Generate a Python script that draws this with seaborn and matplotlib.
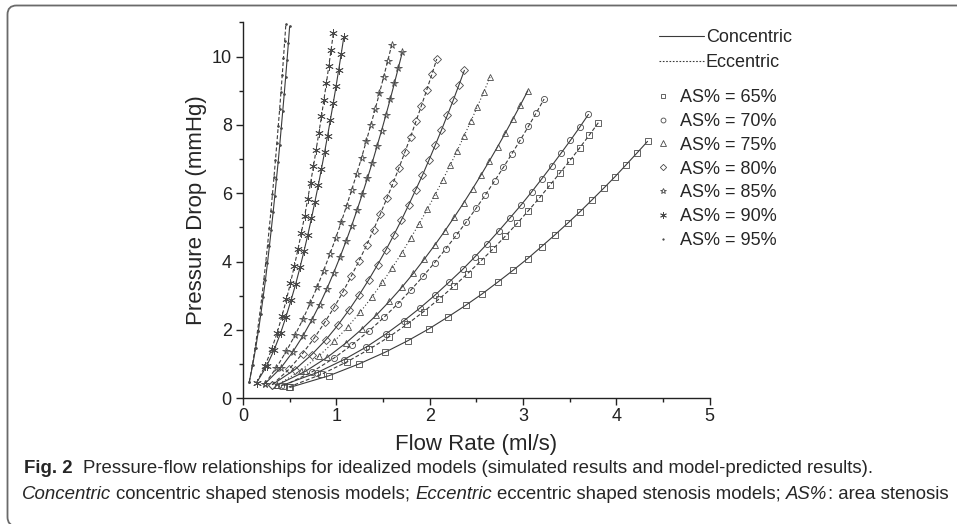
import matplotlib
matplotlib.use("Agg")
import matplotlib.pyplot as plt
import seaborn as sns
from matplotlib.lines import Line2D
from matplotlib.patches import FancyBboxPatch
from matplotlib.transforms import IdentityTransform
from matplotlib.ticker import MultipleLocator

# Flow rate (ml/s) and pressure drop (mmHg)
flow_65_con = [0.504, 0.921, 1.247, 1.524, 1.769, 1.990, 2.195, 2.385, 2.564, 2.734, 2.895,
               3.050, 3.198, 3.340, 3.477, 3.610, 3.740, 3.865, 3.987, 4.106, 4.221, 4.334]
dp_65_con = [0.32, 0.66, 1.01, 1.35, 1.69, 2.03, 2.38, 2.72, 3.06, 3.41, 3.75,
             4.09, 4.44, 4.78, 5.12, 5.46, 5.81, 6.15, 6.49, 6.84, 7.18, 7.52]
flow_65_ecc = [0.490, 0.839, 1.116, 1.355, 1.566, 1.759, 1.937, 2.102, 2.259, 2.406, 2.548,
               2.682, 2.812, 2.937, 3.057, 3.174, 3.286, 3.396, 3.503, 3.607, 3.709, 3.808]
dp_65_ecc = [0.33, 0.70, 1.07, 1.44, 1.80, 2.17, 2.54, 2.91, 3.28, 3.65, 4.02,
             4.38, 4.75, 5.12, 5.49, 5.86, 6.23, 6.60, 6.96, 7.33, 7.70, 8.07]

flow_70_con = [0.412, 0.793, 1.080, 1.320, 1.530, 1.720, 1.895, 2.057, 2.208, 2.352, 2.488,
               2.619, 2.744, 2.864, 2.980, 3.092, 3.200, 3.306, 3.409, 3.508, 3.606, 3.701]
dp_70_con = [0.37, 0.75, 1.13, 1.50, 1.88, 2.26, 2.64, 3.02, 3.40, 3.77, 4.15,
             4.53, 4.91, 5.29, 5.66, 6.04, 6.42, 6.80, 7.18, 7.55, 7.93, 8.31]
flow_70_ecc = [0.441, 0.737, 0.971, 1.171, 1.349, 1.511, 1.659, 1.799, 1.929, 2.053, 2.171,
               2.284, 2.392, 2.497, 2.598, 2.695, 2.790, 2.881, 2.971, 3.058, 3.143, 3.226]
dp_70_ecc = [0.37, 0.77, 1.17, 1.57, 1.97, 2.37, 2.77, 3.17, 3.57, 3.97, 4.37,
             4.77, 5.16, 5.56, 5.96, 6.36, 6.76, 7.16, 7.56, 7.96, 8.36, 8.76]

flow_75_con = [0.360, 0.669, 0.903, 1.099, 1.271, 1.427, 1.569, 1.702, 1.826, 1.944, 2.056,
               2.163, 2.265, 2.364, 2.459, 2.551, 2.640, 2.727, 2.811, 2.893, 2.973, 3.051]
dp_75_con = [0.38, 0.79, 1.20, 1.61, 2.02, 2.43, 2.84, 3.25, 3.66, 4.08, 4.49,
             4.90, 5.31, 5.72, 6.13, 6.54, 6.95, 7.36, 7.77, 8.18, 8.59, 9.00]
flow_75_ecc = [0.361, 0.617, 0.814, 0.980, 1.126, 1.258, 1.380, 1.493, 1.599, 1.700, 1.795,
               1.887, 1.974, 2.059, 2.140, 2.219, 2.295, 2.369, 2.441, 2.512, 2.580, 2.647]
dp_75_ecc = [0.38, 0.81, 1.24, 1.67, 2.10, 2.53, 2.96, 3.39, 3.82, 4.25, 4.68,
             5.11, 5.53, 5.96, 6.39, 6.82, 7.25, 7.68, 8.11, 8.54, 8.97, 9.40]

flow_80_con = [0.314, 0.556, 0.737, 0.887, 1.019, 1.137, 1.246, 1.347, 1.442, 1.531, 1.616,
               1.698, 1.775, 1.850, 1.923, 1.992, 2.060, 2.126, 2.190, 2.252, 2.312, 2.372]
dp_80_con = [0.40, 0.84, 1.28, 1.71, 2.15, 2.59, 3.03, 3.47, 3.91, 4.34, 4.78,
             5.22, 5.66, 6.10, 6.53, 6.97, 7.41, 7.85, 8.29, 8.72, 9.16, 9.60]
flow_80_ecc = [0.314, 0.493, 0.638, 0.763, 0.875, 0.978, 1.072, 1.161, 1.244, 1.324, 1.399,
               1.471, 1.541, 1.608, 1.672, 1.735, 1.796, 1.855, 1.912, 1.968, 2.023, 2.076]
dp_80_ecc = [0.40, 0.85, 1.31, 1.76, 2.22, 2.67, 3.12, 3.58, 4.03, 4.48, 4.94,
             5.39, 5.85, 6.30, 6.75, 7.21, 7.66, 8.12, 8.57, 9.02, 9.48, 9.93]

flow_85_con = [0.236, 0.406, 0.534, 0.641, 0.735, 0.820, 0.898, 0.971, 1.039, 1.103, 1.164,
               1.223, 1.279, 1.333, 1.385, 1.435, 1.484, 1.531, 1.577, 1.622, 1.665, 1.708]
dp_85_con = [0.43, 0.89, 1.36, 1.82, 2.28, 2.74, 3.20, 3.67, 4.13, 4.59, 5.05,
             5.52, 5.98, 6.44, 6.90, 7.37, 7.83, 8.29, 8.75, 9.22, 9.68, 10.14]
flow_85_ecc = [0.236, 0.359, 0.464, 0.558, 0.643, 0.721, 0.795, 0.864, 0.930, 0.992, 1.052,
               1.109, 1.165, 1.218, 1.270, 1.320, 1.368, 1.416, 1.462, 1.507, 1.551, 1.594]
dp_85_ecc = [0.43, 0.90, 1.38, 1.85, 2.32, 2.79, 3.26, 3.74, 4.21, 4.68, 5.15,
             5.63, 6.10, 6.57, 7.04, 7.52, 7.99, 8.46, 8.93, 9.41, 9.88, 10.35]

flow_90_con = [0.147, 0.253, 0.334, 0.402, 0.461, 0.515, 0.565, 0.611, 0.654, 0.695, 0.734,
               0.771, 0.807, 0.841, 0.874, 0.906, 0.937, 0.967, 0.997, 1.025, 1.053, 1.080]
dp_90_con = [0.46, 0.94, 1.42, 1.90, 2.39, 2.87, 3.35, 3.83, 4.31, 4.79, 5.27,
             5.76, 6.24, 6.72, 7.20, 7.68, 8.16, 8.64, 9.13, 9.61, 10.09, 10.57]
flow_90_ecc = [0.147, 0.236, 0.306, 0.366, 0.418, 0.466, 0.509, 0.550, 0.589, 0.625, 0.660,
               0.693, 0.724, 0.755, 0.784, 0.813, 0.841, 0.867, 0.894, 0.919, 0.944, 0.968]
dp_90_ecc = [0.46, 0.95, 1.43, 1.92, 2.41, 2.90, 3.38, 3.87, 4.36, 4.84, 5.33,
             5.82, 6.31, 6.79, 7.28, 7.77, 8.25, 8.74, 9.23, 9.72, 10.20, 10.69]

flow_95_con = [0.068, 0.104, 0.136, 0.165, 0.191, 0.216, 0.240, 0.262, 0.283, 0.303, 0.323,
               0.341, 0.359, 0.377, 0.394, 0.410, 0.426, 0.442, 0.457, 0.472, 0.486, 0.500]
dp_95_con = [0.48, 0.98, 1.47, 1.97, 2.46, 2.96, 3.45, 3.95, 4.45, 4.94, 5.44,
             5.93, 6.43, 6.92, 7.42, 7.92, 8.41, 8.91, 9.40, 9.90, 10.39, 10.89]
flow_95_ecc = [0.068, 0.101, 0.130, 0.156, 0.180, 0.203, 0.224, 0.244, 0.263, 0.282, 0.299,
               0.316, 0.332, 0.348, 0.363, 0.378, 0.393, 0.407, 0.421, 0.434, 0.447, 0.460]
dp_95_ecc = [0.48, 0.98, 1.48, 1.98, 2.48, 2.98, 3.48, 3.98, 4.48, 4.98, 5.48,
             5.98, 6.47, 6.97, 7.47, 7.97, 8.47, 8.97, 9.47, 9.97, 10.47, 10.97]

stenosis_labels = ["AS% = 65%", "AS% = 70%", "AS% = 75%", "AS% = 80%",
                   "AS% = 85%", "AS% = 90%", "AS% = 95%"]
shape_labels = ["Concentric", "Eccentric"]

# --- style ---
sns.set_style("ticks")
plt.rcParams["font.family"] = ["Liberation Sans", "DejaVu Sans"]

line_col = "#3a3a3a"
mark_col = "#4a4a4a"
solid = "-"
dashed = (0, (3.5, 2))
dotted = (0, (1, 2))

# marker, size per stenosis level
markers = ["s", "o", "^", "D", "*", (6, 2, 0), "."]
msizes = [4.0, 4.4, 4.6, 4.0, 5.5, 6.0, 2.5]

curves = [
    (flow_65_con, dp_65_con, 0, solid), (flow_65_ecc, dp_65_ecc, 0, dashed),
    (flow_70_con, dp_70_con, 1, solid), (flow_70_ecc, dp_70_ecc, 1, dashed),
    (flow_75_con, dp_75_con, 2, solid), (flow_75_ecc, dp_75_ecc, 2, dotted),
    (flow_80_con, dp_80_con, 3, solid), (flow_80_ecc, dp_80_ecc, 3, dashed),
    (flow_85_con, dp_85_con, 4, solid), (flow_85_ecc, dp_85_ecc, 4, dashed),
    (flow_90_con, dp_90_con, 5, solid), (flow_90_ecc, dp_90_ecc, 5, dashed),
    (flow_95_con, dp_95_con, 6, solid), (flow_95_ecc, dp_95_ecc, 6, dashed),
]

fig = plt.figure(figsize=(9.57, 5.24), dpi=100)
ax = fig.add_axes([0.2539, 0.2399, 0.4877, 0.7172])

for q, p, i, ls in curves:
    face = mark_col if markers[i] == "." else "none"
    sns.lineplot(x=q, y=p, ax=ax, color=line_col, linestyle=ls, linewidth=0.8,
                 marker=markers[i], markersize=msizes[i], mec=mark_col, mfc=face,
                 mew=0.6, estimator=None, sort=False, legend=False)

ax.set_xlim(0, 5)
ax.set_ylim(0, 11)
ax.xaxis.set_major_locator(MultipleLocator(1))
ax.xaxis.set_minor_locator(MultipleLocator(0.5))
ax.yaxis.set_major_locator(MultipleLocator(2))
ax.yaxis.set_minor_locator(MultipleLocator(1))
ax.tick_params(which="both", direction="out", width=1.0, colors="#222222")
ax.tick_params(which="major", length=5)
ax.tick_params(which="minor", length=2.6)
ax.tick_params(axis="x", labelsize=13, pad=2)
ax.tick_params(axis="y", labelsize=13, pad=3)
sns.despine(ax=ax)
for s in ["left", "bottom"]:
    ax.spines[s].set_linewidth(1.0)
    ax.spines[s].set_color("#222222")

ax.set_xlabel("Flow Rate (ml/s)", fontsize=16)
ax.set_ylabel("Pressure Drop (mmHg)", fontsize=16)
ax.xaxis.set_label_coords(0.5, -0.096)
ax.yaxis.set_label_coords(-0.077, 0.5)

# legends
shape_handles = [Line2D([], [], color=line_col, lw=0.8, ls=solid),
                 Line2D([], [], color=line_col, lw=0.8, ls=(0, (1.5, 1.5)))]
leg1 = ax.legend(shape_handles, shape_labels, loc="upper left",
                 bbox_to_anchor=(659 / 957, 1 - 29 / 524), bbox_transform=fig.transFigure,
                 frameon=False, fontsize=13, handlelength=2.5, handletextpad=0.1,
                 labelspacing=0.45, borderpad=0, borderaxespad=0)
ax.add_artist(leg1)

mark_handles = [Line2D([], [], ls="none", marker=m, ms=s * 0.8, mec=mark_col,
                       mfc=(mark_col if m == "." else "none"), mew=0.6)
                for m, s in zip(markers, msizes)]
ax.legend(mark_handles, stenosis_labels, loc="upper left",
          bbox_to_anchor=(654 / 957, 1 - 89 / 524), bbox_transform=fig.transFigure,
          frameon=False, fontsize=13, handlelength=1.0, handletextpad=0.45,
          labelspacing=0.38, borderpad=0, borderaxespad=0)

# frame around the figure panel
frame = FancyBboxPatch((7.5, -2), 1000, 520.5, boxstyle="round,pad=0,rounding_size=9",
                       transform=IdentityTransform(), fill=False, ec="#6a6a6a", lw=1.3)
fig.add_artist(frame)

# caption
cap_fs = 13.4
gap = 3.7


def chain(prev, txt, style="normal", weight="normal", pad=gap):
    return ax.annotate(txt, xy=(1, 0), xycoords=prev, xytext=(pad, 0),
                       textcoords="offset points", ha="left", va="bottom",
                       fontsize=cap_fs, style=style, weight=weight,
                       annotation_clip=False)


t = fig.text(24 / 957, 1 - 477 / 524, "Fig. 2", fontsize=cap_fs, weight="bold",
             ha="left", va="bottom")
chain(t, "Pressure-flow relationships for idealized models (simulated results and "
         "model-predicted results).", pad=gap * 2)

t = fig.text(22 / 957, 1 - 503 / 524, "Concentric", fontsize=cap_fs, style="italic",
             ha="left", va="bottom")
t = chain(t, "concentric shaped stenosis models;")
t = chain(t, "Eccentric", style="italic")
t = chain(t, "eccentric shaped stenosis models;")
t = chain(t, "AS%", style="italic")
chain(t, ": area stenosis", pad=0)

fig.savefig("out.png", dpi=100)
